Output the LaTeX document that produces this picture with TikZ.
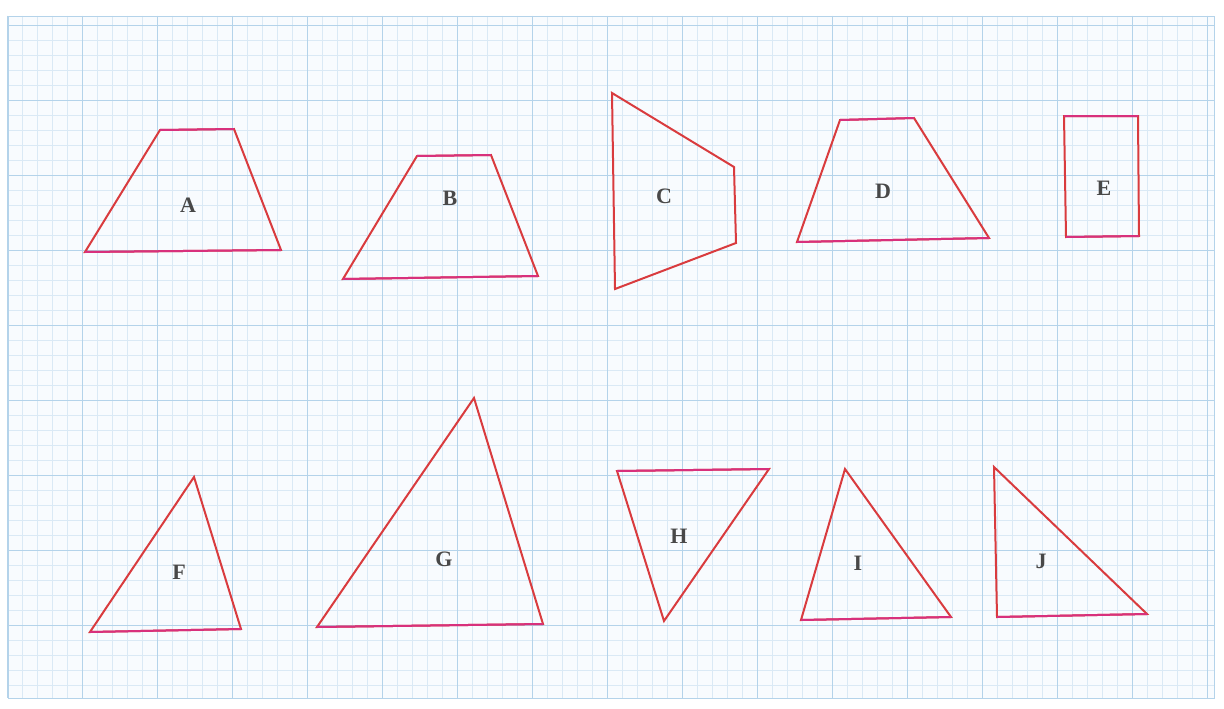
\documentclass[tikz,border=0pt]{standalone}
\usepackage{fontspec}
\setmainfont{Liberation Serif}
\begin{document}
\begin{tikzpicture}[x=1pt,y=-1pt,
  minor/.style={draw=gridminor,line width=0.6pt},
  major/.style={draw=gridmajor,line width=0.9pt},
  edge/.style={draw=edgered,line width=2pt,line join=miter},
  flat/.style={draw=edgepink,line width=2pt},
  lbl/.style={text=lblgray,font=\bfseries\fontsize{22}{26}\selectfont,inner sep=0pt}]
\definecolor{gridminor}{HTML}{DAE9F5}
\definecolor{gridmajor}{HTML}{B4D3EA}
\definecolor{paper}{HTML}{F8FBFE}
\definecolor{edgered}{HTML}{D93B3E}
\definecolor{edgepink}{HTML}{D8307C}
\definecolor{lblgray}{HTML}{484848}
\useasboundingbox (0,0) rectangle (1224,709);
\fill[white] (0,0) rectangle (1224,709);
\fill[paper] (8,16) rectangle (1214,698);
% minor grid
\foreach \i in {0,...,80} {\draw[minor] ({7+15*\i},16) -- ({7+15*\i},698);}
\foreach \j in {0,...,44} {\draw[minor] (8,{25+15*\j}) -- (1214,{25+15*\j});}
\draw[minor] (8,16) -- (1214,16);
% major grid
\foreach \i in {0,...,16} {\draw[major] ({7+75*\i},16) -- ({7+75*\i},698);}
\foreach \j in {0,...,8} {\draw[major] (8,{25+75*\j}) -- (1214,{25+75*\j});}
\draw[major] (8,16) rectangle (1214,698);
% A
\draw[edge] (160,130) -- (234,129) -- (281,250) -- (85,252) -- cycle;
\draw[flat] (160,130) -- (234,129) (281,250) -- (85,252);
\node[lbl] (A) at (188,205) {A};
% B
\draw[edge] (417,156) -- (491,155) -- (538,276) -- (343,279) -- cycle;
\draw[flat] (417,156) -- (491,155) (538,276) -- (343,279);
\node[lbl] (B) at (450,198) {B};
% C
\draw[edge] (612,93) -- (734,167) -- (736,243) -- (615,289) -- cycle;
\node[lbl] (C) at (664,196) {C};
% D
\draw[edge] (840,120) -- (914,118) -- (989,238) -- (797,242) -- cycle;
\draw[flat] (840,120) -- (914,118) (989,238) -- (797,242);
\node[lbl] (D) at (883,191) {D};
% E
\draw[edge] (1064,116) -- (1138,116) -- (1139,236) -- (1066,237) -- cycle;
\draw[flat] (1064,116) -- (1138,116) (1139,236) -- (1066,237);
\node[lbl] (E) at (1104,188) {E};
% F
\draw[edge] (194,477) -- (241,629) -- (90,632) -- cycle;
\draw[flat] (241,629) -- (90,632);
\node[lbl] (F) at (179,572) {F};
% G
\draw[edge] (474,398) -- (543,624) -- (317,627) -- cycle;
\draw[flat] (543,624) -- (317,627);
\node[lbl] (G) at (444,559) {G};
% H
\draw[edge] (617,471) -- (769,469) -- (664,621) -- cycle;
\draw[flat] (617,471) -- (769,469);
\node[lbl] (H) at (679,536) {H};
% I
\draw[edge] (845,469) -- (951,617) -- (801,620) -- cycle;
\draw[flat] (951,617) -- (801,620);
\node[lbl] (I) at (858,563) {I};
% J
\draw[edge] (994,467) -- (1147,614) -- (997,617) -- cycle;
\draw[flat] (1147,614) -- (997,617);
\node[lbl] (J) at (1041,561) {J};
\end{tikzpicture}
\end{document}
